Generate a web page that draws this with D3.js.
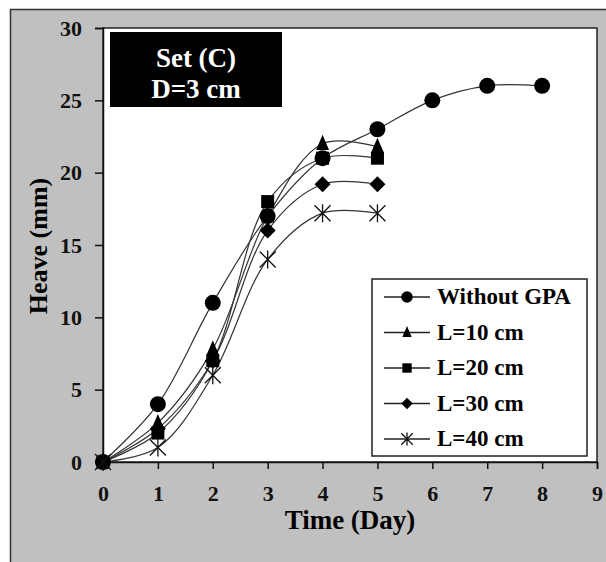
<!DOCTYPE html>
<html>
<head>
<meta charset="utf-8">
<script src="https://cdnjs.cloudflare.com/ajax/libs/d3/7.8.5/d3.min.js"></script>
<style>
  body { margin: 0; background: #fff; }
  text { font-family: "Liberation Serif", "Times New Roman", serif; font-weight: bold; }
</style>
</head>
<body>
<svg></svg>
<script>
const days = [0, 1, 2, 3, 4, 5, 6, 7, 8];
const withoutGPA = [0, 4, 11, 17, 21, 23, 25, 26, 26];
const l10 = [0, 2.7, 7.8, 17, 22, 21.8];
const l20 = [0, 2, 7, 18, 21, 21];
const l30 = [0, 2.3, 7, 16, 19.2, 19.2];
const l40 = [0, 1, 6, 14, 17.2, 17.2];
const seriesNames = ["Without GPA", "L=10 cm", "L=20 cm", "L=30 cm", "L=40 cm"];
const xTicks = [0, 1, 2, 3, 4, 5, 6, 7, 8, 9];
const yTicks = [0, 5, 10, 15, 20, 25, 30];

const svgWidth = 606;
const svgHeight = 562;

const svg = d3.select("svg")
  .attr("width", svgWidth)
  .attr("height", svgHeight);

// gray frame
svg.append("rect")
  .attr("x", 10.5).attr("y", 9.5)
  .attr("width", 600).attr("height", 560)
  .attr("fill", "#c0c0c0")
  .attr("stroke", "#333").attr("stroke-width", 1.5);

const plotLeft = 103, plotRight = 597, plotTop = 28, plotBottom = 462;

const xScale = d3.scaleLinear().domain([0, 9]).range([plotLeft, plotRight]);
const yScale = d3.scaleLinear().domain([0, 30]).range([plotBottom, plotTop]);

svg.append("rect")
  .attr("x", plotLeft).attr("y", plotTop)
  .attr("width", plotRight - plotLeft).attr("height", plotBottom - plotTop)
  .attr("fill", "#fff")
  .attr("stroke", "#222").attr("stroke-width", 1.5);

const xAxis = svg.append("g")
  .attr("transform", "translate(0," + plotBottom + ")")
  .call(d3.axisBottom(xScale).tickValues(xTicks).tickSize(7).tickPadding(16));
const yAxis = svg.append("g")
  .attr("transform", "translate(" + plotLeft + ",0)")
  .call(d3.axisLeft(yScale).tickValues(yTicks).tickSize(8).tickPadding(13));

[xAxis, yAxis].forEach(a => {
  a.select(".domain").attr("stroke", "#111").attr("stroke-width", 1.5);
  a.selectAll(".tick line").attr("stroke", "#111").attr("stroke-width", 1.5);
  a.selectAll(".tick text")
    .attr("fill", "#111")
    .style("font-size", "22px")
    .style("font-family", "Liberation Serif, serif")
    .style("font-weight", "bold");
});

svg.append("text")
  .attr("x", 350).attr("y", 529)
  .attr("text-anchor", "middle")
  .style("font-size", "27px")
  .text("Time (Day)");

svg.append("text")
  .attr("transform", "translate(47,246) rotate(-90)")
  .attr("text-anchor", "middle")
  .style("font-size", "26px")
  .text("Heave (mm)");

// title box
svg.append("rect")
  .attr("x", 110).attr("y", 32)
  .attr("width", 172).attr("height", 75)
  .attr("fill", "#000");
svg.append("text")
  .attr("x", 196).attr("y", 67)
  .attr("text-anchor", "middle").attr("fill", "#fff")
  .style("font-size", "27px")
  .text("Set (C)");
svg.append("text")
  .attr("x", 196).attr("y", 98)
  .attr("text-anchor", "middle").attr("fill", "#fff")
  .style("font-size", "27px")
  .text("D=3 cm");

const allSeries = [withoutGPA, l10, l20, l30, l40];
const shapes = ["circle", "triangle", "square", "diamond", "star"];

function drawMarker(g, shape, x, y, s) {
  if (shape === "circle") {
    g.append("circle").attr("cx", x).attr("cy", y).attr("r", 8 * s).attr("fill", "#000");
  } else if (shape === "triangle") {
    const w = 6.5 * s, h = 9 * s;
    g.append("path").attr("d", `M${x},${y - h}L${x + w},${y + h * 0.7}L${x - w},${y + h * 0.7}Z`).attr("fill", "#000");
  } else if (shape === "square") {
    const w = 6.5 * s;
    g.append("rect").attr("x", x - w).attr("y", y - w).attr("width", 2 * w).attr("height", 2 * w).attr("fill", "#000");
  } else if (shape === "diamond") {
    const w = 8 * s;
    g.append("path").attr("d", `M${x},${y - w}L${x + w},${y}L${x},${y + w}L${x - w},${y}Z`).attr("fill", "#000");
  } else {
    const r = 8 * s, h = 9 * s;
    const d = `M${x},${y - h}L${x},${y + h}M${x - r},${y - r}L${x + r},${y + r}M${x - r},${y + r}L${x + r},${y - r}`;
    g.append("path").attr("d", d).attr("stroke", "#111").attr("stroke-width", 1.3).attr("fill", "none");
  }
}

const line = d3.line()
  .x((d, i) => xScale(days[i]))
  .y(d => yScale(d))
  .curve(d3.curveCatmullRom.alpha(0.5));

const lines = svg.append("g");
allSeries.forEach(s => {
  lines.append("path")
    .attr("d", line(s))
    .attr("fill", "none")
    .attr("stroke", "#333")
    .attr("stroke-width", 1.2);
});

const markers = svg.append("g");
allSeries.forEach((s, j) => {
  s.forEach((v, i) => drawMarker(markers, shapes[j], xScale(days[i]), yScale(v), 1));
});

// legend
const legend = svg.append("g");
legend.append("rect")
  .attr("x", 372).attr("y", 279)
  .attr("width", 215).attr("height", 177)
  .attr("fill", "#fff")
  .attr("stroke", "#222").attr("stroke-width", 1.5);
seriesNames.forEach((name, j) => {
  const ly = 297 + j * 35.5;
  legend.append("line")
    .attr("x1", 384).attr("x2", 430)
    .attr("y1", ly).attr("y2", ly)
    .attr("stroke", "#222").attr("stroke-width", 1.5);
  drawMarker(legend, shapes[j], 407, ly, 0.72);
  legend.append("text")
    .attr("x", 437).attr("y", ly + 7)
    .style("font-size", "23px")
    .text(name);
});
</script>
</body>
</html>
